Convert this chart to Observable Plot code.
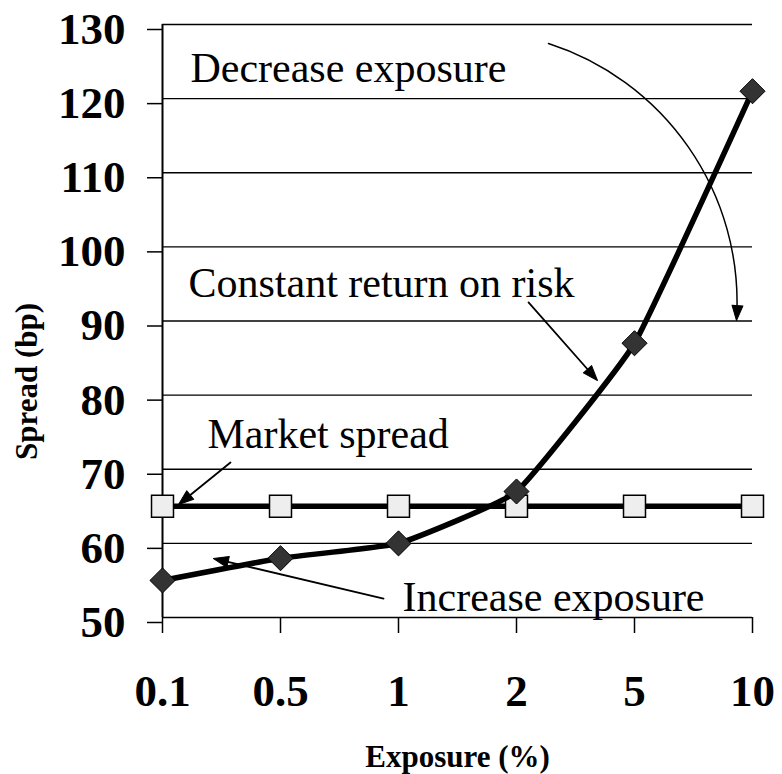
<!DOCTYPE html>
<html>
<head>
<meta charset="utf-8">
<script src="https://cdn.jsdelivr.net/npm/d3@7"></script>
<script src="https://cdn.jsdelivr.net/npm/@observablehq/plot@0.6"></script>
<style>
  html, body { margin: 0; padding: 0; background: #fff; }
  svg { display: block; }
</style>
</head>
<body>
<div id="chart"></div>
<script>
// ---- data ----
const exposureLabels = ["0.1", "0.5", "1", "2", "5", "10"];
const constantReturn = [55, 58, 60, 67, 87, 121];
const marketSpread = [65, 65, 65, 65, 65, 65];
const yTicks = [50, 60, 70, 80, 90, 100, 110, 120, 130];
const xTitle = "Exposure (%)";
const yTitle = "Spread (bp)";
const annotationTexts = ["Decrease exposure", "Constant return on risk", "Market spread", "Increase exposure"];

// ---- annotation layout (data coordinates: x = category index, y = spread) ----
const annotationPlaces = [
  {x: 0.237, y: 122.2},
  {x: 0.22, y: 93.3},
  {x: 0.381, y: 72.8},
  {x: 2.034, y: 50.94}
];
const arrowPlaces = [
  {x1: 3.271, y1: 127.44, x2: 4.864, y2: 90.07, rot: 184},
  {x1: 3.102, y1: 92.5, x2: 3.686, y2: 81.97, rot: 138.5},
  {x1: 0.576, y1: 70.91, x2: 0.136, y2: 65.25, rot: 231},
  {x1: 1.873, y1: 52.56, x2: 0.432, y2: 57.96, rot: 283}
];

const table = exposureLabels.map((label, i) => ({i, label, constant: constantReturn[i], market: marketSpread[i]}));
const annotations = annotationTexts.map((t, i) => ({t, ...annotationPlaces[i]}));

const FONT = "'Liberation Serif', 'Times New Roman', Times, serif";

const triangleHead = {
  draw(context, l, r) {
    context.moveTo(-r, 0);
    context.lineTo(0, -l);
    context.lineTo(r, 0);
    context.closePath();
  }
};

const chart = Plot.plot({
  width: 782,
  height: 774,
  marginLeft: 162,
  marginRight: 30,
  marginTop: 24,
  marginBottom: 157,
  style: {fontFamily: FONT, color: "black", background: "white", overflow: "visible"},
  x: {type: "linear", domain: [0, 5]},
  y: {domain: [50, 130]},
  marks: [
    Plot.ruleY(yTicks, {stroke: "black", strokeWidth: 1.3}),
    Plot.axisY({ticks: yTicks, tickSize: 15, tickPadding: 22, fontSize: 45, fontWeight: "bold", dy: 5, label: null, strokeWidth: 1.5}),
    Plot.axisX({ticks: d3.range(exposureLabels.length), tickFormat: i => exposureLabels[i], tickSize: 16, tickPadding: 41, fontSize: 45, fontWeight: "bold", label: null, strokeWidth: 1.5}),
    Plot.ruleX([0], {stroke: "black", strokeWidth: 2}),
    Plot.line(table, {x: "i", y: "market", stroke: "black", strokeWidth: 5.5}),
    Plot.dot(table, {x: "i", y: "market", symbol: "square", r: 12.4, fill: "#eeeeee", stroke: "black", strokeWidth: 1.5}),
    Plot.line(table, {x: "i", y: "constant", stroke: "black", strokeWidth: 5.5, curve: d3.curveCardinal.tension(0.65)}),
    Plot.dot(table, {x: "i", y: "constant", symbol: "diamond2", r: 11.3, fill: "#333333", stroke: "black", strokeWidth: 1}),
    // annotations
    Plot.text(annotations, {x: "x", y: "y", text: "t", textAnchor: "start", lineAnchor: "bottom", fontSize: 42, fill: "black"}),
    Plot.arrow(arrowPlaces.slice(0, 1), {x1: "x1", y1: "y1", x2: "x2", y2: "y2", bend: 38, headLength: 0, insetEnd: 6, stroke: "black", strokeWidth: 1.5}),
    Plot.arrow(arrowPlaces.slice(1), {x1: "x1", y1: "y1", x2: "x2", y2: "y2", headLength: 0, insetEnd: 6, stroke: "black", strokeWidth: 1.8}),
    Plot.vector(arrowPlaces, {x: "x2", y: "y2", rotate: "rot", length: 15, r: 5.5, anchor: "end", shape: triangleHead, fill: "black", stroke: "black", strokeWidth: 1}),
    // axis titles
    Plot.text([xTitle], {text: d => d, frameAnchor: "bottom", dy: 149, lineAnchor: "bottom", fontSize: 31, fontWeight: "bold"}),
    Plot.text([yTitle], {text: d => d, frameAnchor: "left", rotate: -90, dx: -126, dy: 60.5, lineAnchor: "bottom", textAnchor: "middle", fontSize: 31, fontWeight: "bold"})
  ]
});

document.getElementById("chart").appendChild(chart);
</script>
</body>
</html>
